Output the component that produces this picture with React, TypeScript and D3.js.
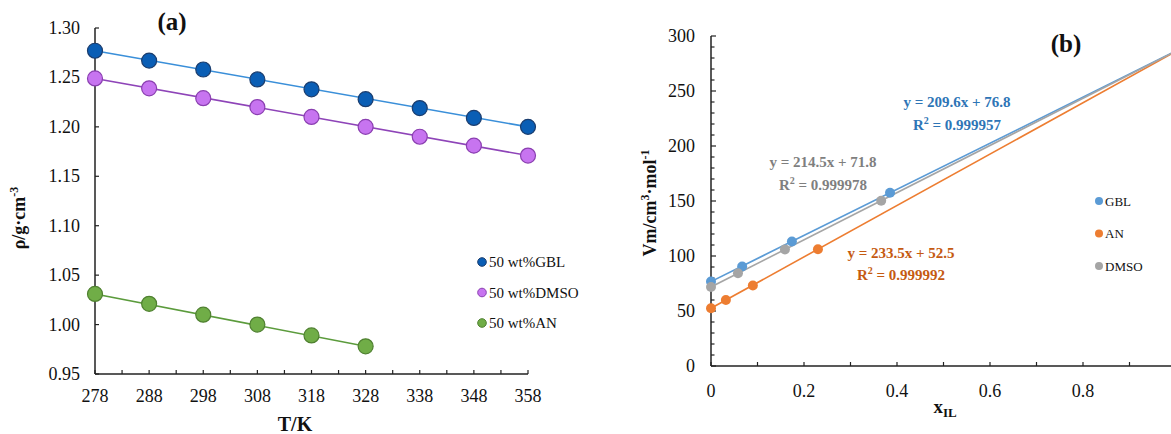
import React from "react";
import * as d3 from "d3";

// ---------- Panel (a) data ----------
const tempsK = [278, 288, 298, 308, 318, 328, 338, 348, 358];
const rhoGBL = [1.277, 1.267, 1.258, 1.248, 1.238, 1.228, 1.219, 1.209, 1.2];
const rhoDMSO = [1.249, 1.239, 1.229, 1.22, 1.21, 1.2, 1.19, 1.181, 1.171];
const tempsAN = [278, 288, 298, 308, 318, 328];
const rhoAN = [1.031, 1.021, 1.01, 1.0, 0.989, 0.978];
const legendA = ["50 wt%GBL", "50 wt%DMSO", "50 wt%AN"];
const yTicksA = [0.95, 1.0, 1.05, 1.1, 1.15, 1.2, 1.25, 1.3];

// ---------- Panel (b) data ----------
const xGBL = [0, 0.067, 0.174, 0.385];
const vGBL = [76.8, 90.5, 113.2, 157.5];
const xAN = [0, 0.032, 0.09, 0.23];
const vAN = [52.5, 60, 73.2, 106.2];
const xDMSO = [0, 0.058, 0.159, 0.366];
const vDMSO = [71.8, 84.3, 106.0, 150.3];
const slopes = [209.6, 233.5, 214.5];
const intercepts = [76.8, 52.5, 71.8];
const r2 = ["0.999957", "0.999992", "0.999978"];
const legendB = ["GBL", "AN", "DMSO"];

const FONT = "'Liberation Serif', 'Times New Roman', serif";

export default function App() {
  // scales panel a
  const xA = d3.scaleLinear().domain([278, 358]).range([95, 528]);
  const yA = d3.scaleLinear().domain([0.95, 1.3]).range([374, 28]);
  // scales panel b
  const xB = d3.scaleLinear().domain([0, 1]).range([711, 1176]);
  const yB = d3.scaleLinear().domain([0, 300]).range([366, 36]);

  const lineA = (xs: number[], ys: number[]) =>
    d3.line<number>()((xs.map((x, i) => [xA(x), yA(ys[i])]) as any)) || "";

  const seriesA = [
    { xs: tempsK, ys: rhoGBL, line: "#3a8fd9", fill: "#0a5eb5", stroke: "#1b3d6e" },
    { xs: tempsK, ys: rhoDMSO, line: "#8e44b8", fill: "#c774f0", stroke: "#8a3fb0" },
    { xs: tempsAN, ys: rhoAN, line: "#5b9b3c", fill: "#70ad47", stroke: "#4f8030" },
  ];

  const seriesB = [
    { xs: xGBL, ys: vGBL, color: "#5b9bd5" },
    { xs: xAN, ys: vAN, color: "#ed7d31" },
    { xs: xDMSO, ys: vDMSO, color: "#a5a5a5" },
  ];

  const axisColor = "#222";
  const xTicksA = d3.range(278, 358.01, 5);
  const xLabelsA = d3.range(278, 358.01, 10);
  const yTicksBMinor = d3.range(0, 300.01, 10);
  const yTicksBMajor = d3.range(0, 300.01, 50);
  const xTicksBMinor = d3.range(0, 1.001, 0.1);
  const xLabelsB = [0, 0.2, 0.4, 0.6, 0.8];

  const annColors = ["#2e75b6", "#c55a11", "#7f7f7f"];
  const annPos = [
    { x: 957, y1: 107, y2: 130 },
    { x: 901, y1: 258, y2: 280 },
    { x: 823, y1: 167, y2: 190 },
  ];

  return (
    <svg
      width={1171}
      height={434}
      style={{ position: "absolute", left: 0, top: 0, background: "#fff" }}
      fontFamily={FONT}
    >
      <rect x={0} y={0} width={1171} height={434} fill="#fff" />
      {/* ================= Panel (a) ================= */}
      <g>
        {/* axes */}
        <line x1={xA(278)} x2={xA(358)} y1={yA(0.95)} y2={yA(0.95)} stroke={axisColor} strokeWidth={1.5} />
        <line x1={xA(278)} x2={xA(278)} y1={yA(0.95)} y2={yA(1.3)} stroke={axisColor} strokeWidth={1.5} />
        {xTicksA.map((t) => (
          <line key={"xt" + t} x1={xA(t)} x2={xA(t)} y1={yA(0.95)} y2={yA(0.95) - 4} stroke={axisColor} strokeWidth={1.2} />
        ))}
        {xLabelsA.map((t) => (
          <text key={"xl" + t} x={xA(t)} y={402} fontSize={18} textAnchor="middle" fill="#111">
            {t}
          </text>
        ))}
        {yTicksA.map((t) => (
          <g key={"yt" + t}>
            <line x1={xA(278)} x2={xA(278) + 4} y1={yA(t)} y2={yA(t)} stroke={axisColor} strokeWidth={1.2} />
            <text x={80} y={yA(t) + 6} fontSize={18} textAnchor="end" fill="#111">
              {t.toFixed(2)}
            </text>
          </g>
        ))}
        <text x={295} y={431} fontSize={20} fontWeight="bold" textAnchor="middle" fill="#111">
          T/K
        </text>
        <text
          transform="translate(25,218) rotate(-90)"
          fontSize={18}
          fontWeight="bold"
          textAnchor="middle"
          fill="#111"
        >
          ρ/g·cm<tspan dy={-7} fontSize={12}>-3</tspan>
        </text>
        <text x={172} y={30} fontSize={25} fontWeight="bold" textAnchor="middle" fill="#111">
          (a)
        </text>
        {/* series */}
        {seriesA.map((s, i) => (
          <g key={"sa" + i}>
            <path d={lineA([s.xs[0], s.xs[s.xs.length - 1]], [s.ys[0], s.ys[s.ys.length - 1]])} stroke={s.line} strokeWidth={1.6} fill="none" />
            {s.xs.map((x, j) => (
              <circle key={j} cx={xA(x)} cy={yA(s.ys[j])} r={7.5} fill={s.fill} stroke={s.stroke} strokeWidth={1.2} />
            ))}
          </g>
        ))}
        {/* legend */}
        {legendA.map((name, i) => (
          <g key={"la" + i} transform={`translate(482,${262 + i * 30.5})`}>
            <circle cx={0} cy={0} r={4.3} fill={seriesA[i].fill} stroke={seriesA[i].stroke} strokeWidth={1} />
            <text x={7} y={5} fontSize={15} fill="#111">
              {name}
            </text>
          </g>
        ))}
      </g>

      {/* ================= Panel (b) ================= */}
      <g>
        <defs>
          <clipPath id="clipB">
            <rect x={711} y={0} width={470} height={366} />
          </clipPath>
        </defs>
        <line x1={xB(0)} x2={1171} y1={yB(0)} y2={yB(0)} stroke={axisColor} strokeWidth={1.5} />
        <line x1={xB(0)} x2={xB(0)} y1={yB(0)} y2={yB(300)} stroke={axisColor} strokeWidth={1.5} />
        {yTicksBMinor.map((t) => (
          <line key={"ybm" + t} x1={xB(0)} x2={xB(0) + (t % 50 === 0 ? 5 : 3.5)} y1={yB(t)} y2={yB(t)} stroke={axisColor} strokeWidth={1.2} />
        ))}
        {yTicksBMajor.map((t) => (
          <text key={"ybl" + t} x={695} y={yB(t) + 6} fontSize={18} textAnchor="end" fill="#111">
            {t}
          </text>
        ))}
        {xTicksBMinor.map((t, i) => (
          <line key={"xbm" + i} x1={xB(t)} x2={xB(t)} y1={yB(0)} y2={yB(0) - 4} stroke={axisColor} strokeWidth={1.2} />
        ))}
        {xLabelsB.map((t) => (
          <text key={"xbl" + t} x={xB(t)} y={397} fontSize={18} textAnchor="middle" fill="#111">
            {t === 0 ? "0" : t.toFixed(1)}
          </text>
        ))}
        <text x={943} y={413} fontSize={19} fontWeight="bold" textAnchor="end" fill="#111">
          x
        </text>
        <text x={943} y={417} fontSize={13} fontWeight="bold" textAnchor="start" fill="#111">
          IL
        </text>
        <text
          transform="translate(656,203) rotate(-90)"
          fontSize={18}
          fontWeight="bold"
          textAnchor="middle"
          fill="#111"
        >
          Vm/cm<tspan dy={-7} fontSize={12}>3</tspan>
          <tspan dy={7}>·mol</tspan>
          <tspan dy={-7} fontSize={12}>-1</tspan>
        </text>
        <text x={1066} y={52} fontSize={25} fontWeight="bold" textAnchor="middle" fill="#111">
          (b)
        </text>
        {/* trend lines */}
        <g clipPath="url(#clipB)">
          {seriesB.map((s, i) => (
            <line
              key={"tl" + i}
              x1={xB(0)}
              y1={yB(intercepts[i])}
              x2={xB(1)}
              y2={yB(intercepts[i] + slopes[i])}
              stroke={s.color}
              strokeWidth={1.6}
            />
          ))}
        </g>
        {seriesB.map((s, i) => (
          <g key={"sb" + i}>
            {s.xs.map((x, j) => (
              <circle key={j} cx={xB(x)} cy={yB(s.ys[j])} r={5} fill={s.color} />
            ))}
          </g>
        ))}
        {/* equations */}
        {slopes.map((m, i) => (
          <g key={"eq" + i} fill={annColors[i]} fontWeight="bold" fontSize={15} textAnchor="middle">
            <text x={annPos[i].x} y={annPos[i].y1}>
              {`y = ${m.toFixed(1)}x + ${intercepts[i].toFixed(1)}`}
            </text>
            <text x={annPos[i].x} y={annPos[i].y2}>
              R<tspan dy={-6} fontSize={10}>2</tspan>
              <tspan dy={6}>{` = ${r2[i]}`}</tspan>
            </text>
          </g>
        ))}
        {/* legend */}
        {legendB.map((name, i) => (
          <g key={"lb" + i} transform={`translate(1099,${201 + i * 32.5})`}>
            <circle cx={0} cy={0} r={4} fill={seriesB[i].color} />
            <text x={6} y={4.5} fontSize={13} fill="#111">
              {name}
            </text>
          </g>
        ))}
      </g>
    </svg>
  );
}
